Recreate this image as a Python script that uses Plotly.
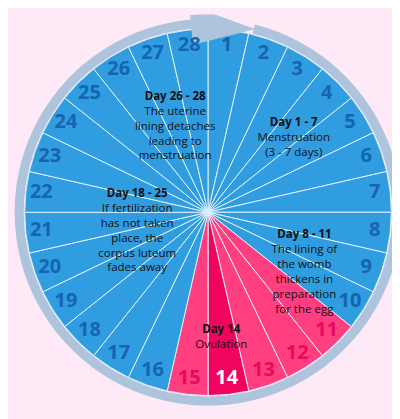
import plotly.graph_objects as go

days = list(range(1, 29))
step = 360 / 28
centers = [(d - 0.5) * step for d in days]
pink_days = [11, 12, 13, 15]
slice_colors = ["#f0045e" if d == 14 else ("#ff3f80" if d in pink_days else "#2f9ddf") for d in days]
num_colors = ["#ffffff" if d == 14 else ("#e8085c" if d in pink_days else "#1764b0") for d in days]

notes = [
    "<b>Day 1 - 7</b><br>Menstruation<br>(3 - 7 days)",
    "<b>Day 8 - 11</b><br>The lining of<br>the womb<br>thickens in<br>preparation<br>for the egg",
    "<b>Day 14</b><br>Ovulation",
    "<b>Day 18 - 25</b><br>If fertilization<br>has not taken<br>place, the<br>corpus luteum<br>fades away",
    "<b>Day 26 - 28</b><br>The uterine<br>lining detaches<br>leading to<br>menstruation",
]
note_r = [0.62, 0.62, 0.69, 0.40, 0.50]
note_theta = [49, 122, 174, 255, 339]

fig = go.Figure()
fig.add_trace(go.Barpolar(r=[1] * 28, theta=centers, width=[step] * 28,
                          marker=dict(color=slice_colors, line=dict(color="#dff0fb", width=1)),
                          hoverinfo="skip"))
ring_start, ring_end = 14, 356
fig.add_trace(go.Barpolar(r=[0.05], base=[1.005], theta=[(ring_start + ring_end) / 2],
                          width=[ring_end - ring_start], marker=dict(color="#aec4dd", line=dict(width=0)),
                          hoverinfo="skip"))
fig.add_trace(go.Scatterpolar(r=[0.92, 1.13, 1.03, 0.92], theta=[-5, -5, 14, -5], mode="lines",
                              fill="toself", fillcolor="#aec4dd", line=dict(color="#aec4dd", width=1),
                              cliponaxis=False, hoverinfo="skip"))
fig.add_trace(go.Scatterpolar(r=[0.915] * 28, theta=centers, mode="text", text=[str(d) for d in days],
                              textfont=dict(family="Open Sans", size=20, color=num_colors, weight="bold"),
                              hoverinfo="skip"))
fig.add_trace(go.Scatterpolar(r=note_r, theta=note_theta, mode="text", text=notes,
                              textfont=dict(family="Open Sans", size=11.5, color="#111111"),
                              hoverinfo="skip"))

fig.update_layout(
    template="none",
    width=400, height=419, margin=dict(l=0, r=0, t=0, b=0),
    paper_bgcolor="#fdeaf6", plot_bgcolor="#fdeaf6", showlegend=False, bargap=0,
    polar=dict(
        domain=dict(x=[0.0, 1.0], y=[0.04, 0.985]),
        bgcolor="rgba(0,0,0,0)", hole=0,
        radialaxis=dict(range=[0, 1.08], visible=False, showgrid=False),
        angularaxis=dict(rotation=90, direction="clockwise", visible=False, showgrid=False),
    ),
)
fig.write_html("out.html")
